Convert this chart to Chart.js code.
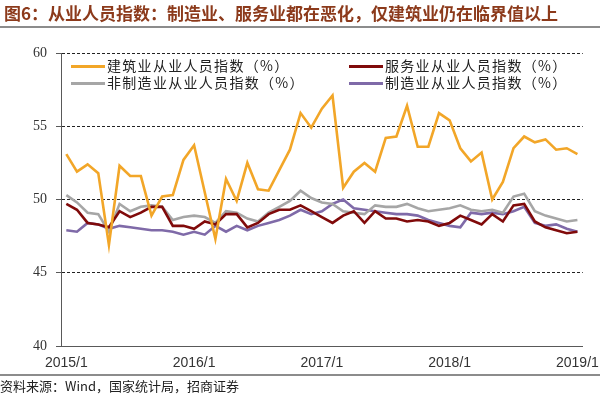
<!DOCTYPE html>
<html>
<head>
<meta charset="utf-8">
<script src="https://cdn.jsdelivr.net/npm/chart.js@4"></script>
<style>
  html, body { margin: 0; padding: 0; background: #fff; }
  #wrap { position: relative; width: 600px; height: 395px; overflow: hidden; }
  #chart { position: absolute; left: 0; top: 0; }
  #title {
    position: absolute; left: 4px; top: 2px; white-space: nowrap;
    font: bold 17px "Noto Sans CJK SC", sans-serif; color: #8c3a1b; line-height: 22px;
  }
  .rule { position: absolute; left: 0; width: 600px; background: #8c8c8c; }
  #source {
    position: absolute; left: 0; top: 377px; white-space: nowrap;
    font: 13px "Noto Sans CJK SC", sans-serif; color: #222; line-height: 18px;
  }
  .legend-item {
    position: absolute; white-space: nowrap; letter-spacing: 1.3px;
    font: 14px "Noto Sans CJK SC", sans-serif; color: #222; line-height: 16px;
  }
  .legend-item i {
    display: inline-block; width: 34px; height: 3px; vertical-align: middle;
    margin-right: 2px; position: relative; top: -1px;
  }
</style>
</head>
<body>
<div id="wrap">
  <canvas id="chart" width="600" height="395"></canvas>
  <div id="title">图6：从业人员指数：制造业、服务业都在恶化，仅建筑业仍在临界值以上</div>
  <div class="rule" style="top:26px;height:2px"></div>
  <div id="legend"></div>
  <div class="rule" style="top:374px;height:2px"></div>
  <div id="source">资料来源：Wind，国家统计局，招商证券</div>
</div>
<script>
// months 2015/1 .. 2019/1
const years = [2015, 2016, 2017, 2018, 2019];
const categories = [];
years.forEach(y => {
    for (let m = 1; m <= 12; m++) {
        if (y === 2019 && m > 1) break;
        categories.push(y + '/' + m);
    }
});

const yTicks = [40, 45, 50, 55, 60];

const construction = [
    53.1, 51.9, 52.4, 51.8, 46.9, 52.3, 51.6, 51.6, 48.9, 50.2, 50.3, 52.7,
    53.7, 50.5, 47.3, 51.4, 49.9, 52.5, 50.7, 50.6, 52.0, 53.4, 55.9, 54.9,
    56.2, 57.1, 50.8, 51.9, 52.5, 51.9, 54.2, 54.3, 56.4, 53.6, 53.6, 55.9,
    55.4, 53.5, 52.6, 53.2, 50.0, 51.2, 53.5, 54.3, 53.9, 54.1, 53.4, 53.5,
    53.1
];
const services = [
    49.7, 49.3, 48.4, 48.3, 48.1, 49.2, 48.8, 49.1, 49.5, 49.5, 48.2, 48.2,
    48.0, 48.5, 48.3, 49.0, 49.0, 48.1, 48.4, 49.0, 49.3, 49.3, 49.6, 49.2,
    48.8, 48.4, 48.9, 49.2, 48.4, 49.2, 48.7, 48.7, 48.5, 48.6, 48.5, 48.2,
    48.4, 48.9, 48.6, 48.3, 49.0, 48.5, 49.6, 49.7, 48.5, 48.1, 47.9, 47.7,
    47.8
];
const nonManufacturing = [
    50.3, 49.8, 49.1, 49.0, 47.8, 49.7, 49.2, 49.5, 49.6, 49.5, 48.6, 48.8,
    48.9, 48.8, 48.4, 49.2, 49.1, 48.7, 48.5, 49.1, 49.5, 49.9, 50.6, 50.1,
    49.8, 49.7, 49.2, 49.1, 49.0, 49.6, 49.5, 49.5, 49.7, 49.4, 49.2, 49.3,
    49.4, 49.6, 49.3, 49.2, 49.3, 49.1, 50.2, 50.4, 49.2, 48.9, 48.7, 48.5,
    48.6
];
const manufacturing = [
    47.9, 47.8, 48.4, 48.3, 48.0, 48.2, 48.1, 48.0, 47.9, 47.9, 47.8, 47.6,
    47.8, 47.6, 48.2, 47.8, 48.2, 47.9, 48.2, 48.4, 48.6, 48.9, 49.3, 49.0,
    49.2, 49.7, 50.0, 49.4, 49.3, 49.2, 49.1, 49.0, 49.0, 48.9, 48.6, 48.4,
    48.2, 48.1, 49.1, 49.0, 49.1, 49.0, 49.2, 49.5, 48.4, 48.2, 48.3, 48.0,
    47.8
];

const seriesNames = ['建筑业从业人员指数（%）', '服务业从业人员指数（%）', '非制造业从业人员指数（%）', '制造业从业人员指数（%）'];
const seriesColors = ['#f2a628', '#800a0a', '#a6a6a6', '#7f6aa8'];
const seriesData = [construction, services, nonManufacturing, manufacturing];

const datasets = seriesData.map((d, i) => ({
    label: seriesNames[i],
    data: d,
    borderColor: seriesColors[i],
    backgroundColor: seriesColors[i],
    borderWidth: 2.6,
    pointRadius: 0,
    tension: 0,
    fill: false
}));

const chart = new Chart(document.getElementById('chart').getContext('2d'), {
    type: 'line',
    data: { labels: categories, datasets: datasets },
    options: {
        responsive: false,
        animation: false,
        events: [],
        layout: { padding: { top: 53, right: 17, bottom: 25, left: 0 } },
        plugins: { legend: { display: false }, title: { display: false }, tooltip: { enabled: false } },
        scales: {
            x: {
                type: 'category',
                offset: true,
                grid: { display: false },
                border: { display: true, color: '#595959', width: 1 },
                ticks: {
                    autoSkip: false,
                    maxRotation: 0,
                    padding: 1,
                    color: '#333',
                    font: { family: '"Liberation Sans", Arial, sans-serif', size: 14 },
                    callback: function (val) {
                        const lab = this.getLabelForValue(val);
                        return lab.endsWith('/1') && lab.length <= 6 ? lab : '';
                    }
                },
                afterFit: s => { s.height = 24; }
            },
            y: {
                min: yTicks[0],
                max: yTicks[yTicks.length - 1],
                afterBuildTicks: s => { s.ticks = yTicks.map(v => ({ value: v })); },
                grid: {
                    color: c => (c.tick && c.tick.value === 40) ? 'rgba(0,0,0,0)' : '#222',
                    lineWidth: 1,
                    tickColor: '#595959',
                    tickLength: 5
                },
                border: { display: true, color: '#595959', width: 1, dash: [3, 2] },
                ticks: {
                    padding: 9,
                    color: '#333',
                    font: { family: '"Liberation Serif", "Times New Roman", serif', size: 14 }
                },
                afterFit: s => { s.width = 61; }
            }
        }
    }
});

// legend in two columns, built from the chart's datasets
const legendPos = [[71, 57], [349, 57], [71, 74], [349, 74]];
const legend = document.getElementById('legend');
chart.data.datasets.forEach((ds, i) => {
    const item = document.createElement('div');
    item.className = 'legend-item';
    item.style.left = legendPos[i][0] + 'px';
    item.style.top = legendPos[i][1] + 'px';
    item.innerHTML = '<i style="background:' + ds.borderColor + '"></i>' + ds.label;
    legend.appendChild(item);
});
</script>
</body>
</html>
